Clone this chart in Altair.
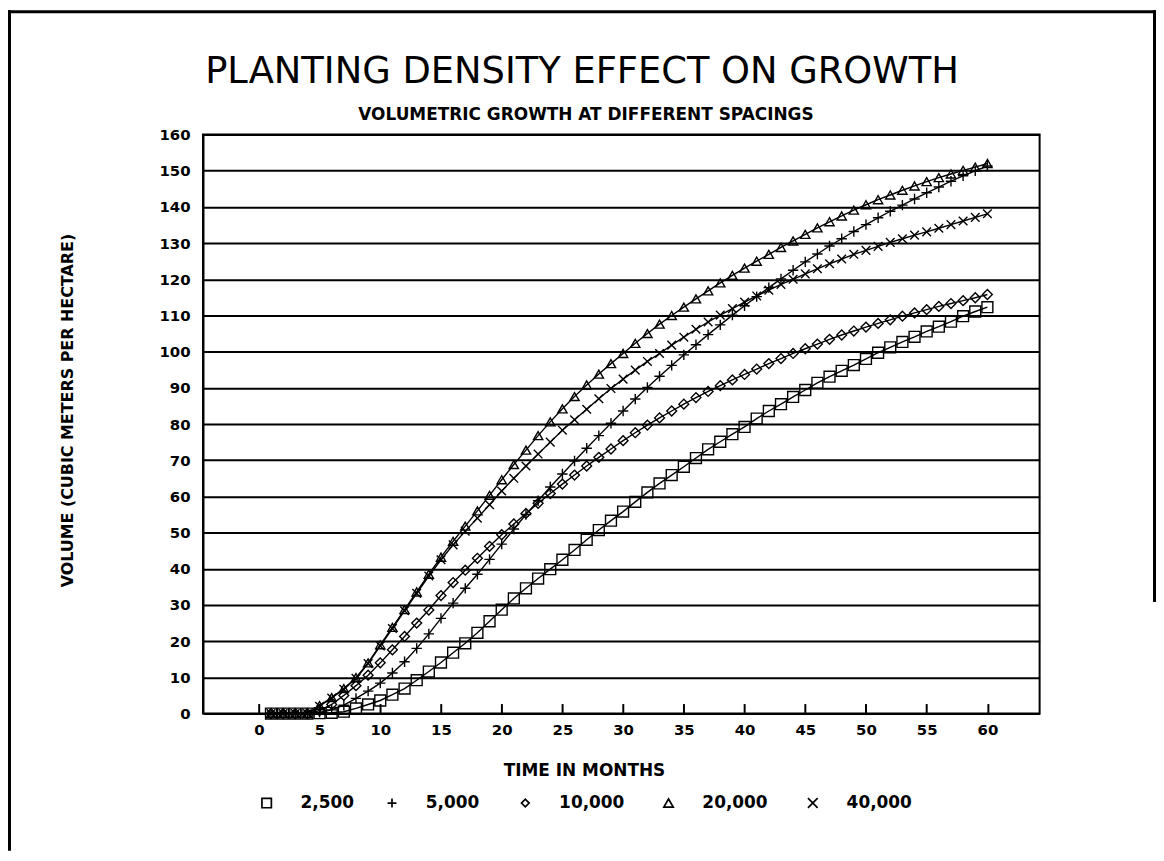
import altair as alt
import pandas as pd

MONTHS = list(range(1, 61))
SERIES = ["2,500", "5,000", "10,000", "20,000", "40,000"]

S2500 = [0, 0, 0, 0, 0.1, 0.2, 0.5, 1.4, 2.5, 3.6,
         5.2, 6.9, 9.2, 11.6, 14.1, 16.8, 19.4, 22.3, 25.5, 28.7,
         31.8, 34.6, 37.3, 39.9, 42.5, 45.2, 48.0, 50.7, 53.3, 55.8,
         58.5, 61.1, 63.6, 65.9, 68.2, 70.6, 73.0, 75.1, 77.2, 79.2,
         81.5, 83.6, 85.5, 87.5, 89.4, 91.4, 93.1, 94.7, 96.3, 98.0,
         99.7, 101.2, 102.7, 104.1, 105.6, 106.9, 108.3, 109.8, 111.1, 112.3]
S5000 = [0, 0, 0, 0, 0.3, 1.0, 2.3, 4.2, 6.2, 8.4,
         11.2, 14.3, 18.0, 22.0, 26.3, 30.5, 34.6, 38.5, 42.6, 46.8,
         51.0, 55.0, 58.8, 62.6, 66.2, 69.8, 73.3, 76.8, 80.2, 83.6,
         86.9, 90.1, 93.2, 96.2, 99.1, 101.9, 104.7, 107.4, 110.1, 112.7,
         115.2, 117.7, 120.1, 122.5, 124.8, 127.0, 129.2, 131.2, 133.2, 135.1,
         137.0, 138.8, 140.5, 142.2, 143.9, 145.5, 147.1, 148.6, 150.0, 151.3]
S10000 = [0, 0, 0, 0, 0.8, 2.5, 5.0, 7.7, 10.6, 14.0,
          17.6, 21.3, 25.0, 28.6, 32.6, 36.2, 39.6, 42.9, 46.2, 49.4,
          52.4, 55.3, 58.1, 60.8, 63.4, 65.9, 68.4, 70.8, 73.1, 75.4,
          77.6, 79.7, 81.7, 83.6, 85.5, 87.3, 89.0, 90.6, 92.2, 93.7,
          95.2, 96.7, 98.1, 99.5, 100.8, 102.1, 103.4, 104.6, 105.7, 106.8,
          107.8, 108.8, 109.8, 110.7, 111.6, 112.5, 113.3, 114.1, 114.9, 115.8]
S20000 = [0, 0, 0, 0, 2.2, 4.4, 6.9, 9.9, 14.0, 19.0,
          23.8, 28.7, 33.6, 38.5, 43.2, 47.6, 51.8, 56.0, 60.3, 64.6,
          68.8, 72.8, 76.8, 80.6, 84.2, 87.6, 90.8, 93.8, 96.7, 99.5,
          102.3, 105.0, 107.6, 110.0, 112.3, 114.6, 116.8, 119.0, 121.1, 123.1,
          125.0, 126.9, 128.8, 130.6, 132.4, 134.2, 135.9, 137.5, 139.1, 140.6,
          142.0, 143.3, 144.6, 145.8, 147.0, 148.1, 149.1, 150.1, 151.0, 152.0]
S40000 = [0, 0, 0, 0, 2.0, 4.3, 6.7, 9.7, 13.8, 18.7,
          23.5, 28.4, 33.2, 38.0, 42.5, 46.6, 50.4, 54.0, 57.7, 61.5,
          65.0, 68.4, 71.7, 75.0, 78.3, 81.2, 84.1, 87.0, 89.8, 92.4,
          94.9, 97.3, 99.5, 101.8, 104.0, 106.2, 108.2, 110.1, 111.9, 113.7,
          115.4, 117.0, 118.6, 120.0, 121.5, 122.9, 124.3, 125.6, 126.9, 128.0,
          129.1, 130.2, 131.2, 132.2, 133.1, 134.1, 135.1, 136.1, 137.1, 138.1]

X_TICKS = list(range(0, 61, 5))
Y_TICKS = list(range(0, 161, 10))

TITLE = "PLANTING DENSITY EFFECT ON GROWTH"
SUBTITLE = "VOLUMETRIC GROWTH AT DIFFERENT SPACINGS"
X_TITLE = "TIME IN MONTHS"
Y_TITLE = "VOLUME (CUBIC METERS PER HECTARE)"

SHAPES = ["square", "M-1,0L1,0M0,-1L0,1", "diamond", "triangle-up", "M-1,-1L1,1M-1,1L1,-1"]
SIZES = [120, 75, 60, 110, 165]
LEGEND_SIZES = [90, 80, 60, 90, 95]

rows = []
for name, vals in zip(SERIES, [S2500, S5000, S10000, S20000, S40000]):
    assert len(vals) == len(MONTHS)
    for m, v in zip(MONTHS, vals):
        rows.append({"month": m, "volume": v, "series": name, "marker": name})
df = pd.DataFrame(rows)

FONT = "DejaVu Sans"
W, H = 841, 582

xscale = alt.Scale(domain=[-4.6, 64.3], nice=False, zero=False)
yscale = alt.Scale(domain=[0, 160], nice=False)

# x axis is lifted 10px into the plot so that its ticks point up from the bottom frame
xaxis = alt.Axis(values=X_TICKS, ticks=True, tickSize=10, tickWidth=2, tickColor="black",
                 offset=-10, domain=False, grid=False, labelPadding=9,
                 labelOverlap=False,
                 labelFont=FONT, labelFontWeight="bold", labelFontSize=15, labelColor="black",
                 title=X_TITLE, titleFont=FONT,
                 titleFontWeight="bold", titleFontSize=17, titleColor="black",
                 titleX=383, titleY=67, titleBaseline="middle", titleAlign="center")
yaxis = alt.Axis(values=Y_TICKS, ticks=False, tickSize=0, grid=True, gridColor="black",
                 gridWidth=2, gridOpacity=1, labelPadding=13, labelOverlap=False,
                 labelFont=FONT, labelFontWeight="bold", labelFontSize=15, labelColor="black",
                 domainColor="black", domainWidth=2, title=Y_TITLE, titleFont=FONT,
                 titleFontWeight="bold", titleFontSize=16, titleColor="black",
                 titleX=-136, titleY=277, titleAngle=270, titleBaseline="middle",
                 titleAlign="center")

X = alt.X("month:Q", scale=xscale, axis=xaxis)
Y = alt.Y("volume:Q", scale=yscale, axis=yaxis)

base = alt.Chart(df)

lines = base.mark_line(color="black", strokeWidth=1.4).encode(
    x=X, y=Y, detail="series:N",
)

points = base.mark_point(filled=False, color="black", strokeWidth=1.4, opacity=1).encode(
    x=X, y=Y,
    shape=alt.Shape("series:N", scale=alt.Scale(domain=SERIES, range=SHAPES), legend=None),
    size=alt.Size("marker:N", scale=alt.Scale(domain=SERIES, range=SIZES), legend=None),
)

title = alt.Chart(pd.DataFrame({"text": [TITLE]})).mark_text(
    font=FONT, fontSize=37, fontWeight="normal", color="black", align="center", baseline="middle"
).encode(x=alt.value(381), y=alt.value(-63), text="text:N")

subtitle = alt.Chart(pd.DataFrame({"text": [SUBTITLE]})).mark_text(
    font=FONT, fontSize=17, fontWeight="bold", color="black", align="center", baseline="middle"
).encode(x=alt.value(385), y=alt.value(-20), text="text:N")

# legend (drawn as marks below the axis title)
LEG_SYM_X = [64, 190, 324, 468, 613]
LEG_Y = 672
legend_layers = []
for name, shp, sz, sx in zip(SERIES, SHAPES, LEGEND_SIZES, LEG_SYM_X):
    one = pd.DataFrame({"label": [name]})
    legend_layers.append(
        alt.Chart(one).mark_point(filled=False, color="black", strokeWidth=1.7, opacity=1,
                                  shape=shp, size=sz)
        .encode(x=alt.value(sx), y=alt.value(LEG_Y)))
    legend_layers.append(
        alt.Chart(one).mark_text(font=FONT, fontSize=17, fontWeight="bold", color="black",
                                 align="left", baseline="middle")
        .encode(x=alt.value(sx + 34), y=alt.value(LEG_Y), text="label:N"))

frame_df = pd.DataFrame({"k": [0]})
left_edge = alt.Chart(frame_df).mark_rule(color="black", strokeWidth=3).encode(
    x=alt.value(-194.5), y=alt.value(-125), y2=alt.value(720))
top_edge = alt.Chart(frame_df).mark_rule(color="black", strokeWidth=3).encode(
    x=alt.value(-196), x2=alt.value(958), y=alt.value(-123.5))
right_edge = alt.Chart(frame_df).mark_rule(color="black", strokeWidth=3).encode(
    x=alt.value(956.5), y=alt.value(-125), y2=alt.value(470))

chart = alt.layer(lines, points, title, subtitle, *legend_layers,
                  left_edge, top_edge, right_edge).properties(
    width=W, height=H,
    autosize=alt.AutoSizeParams(type="none"),
    padding={"left": 196, "top": 125, "right": 117, "bottom": 138},
    background="white",
).configure_view(stroke="black", strokeWidth=2)

chart.save("out.html", embed_options={"renderer": "svg", "actions": False})
